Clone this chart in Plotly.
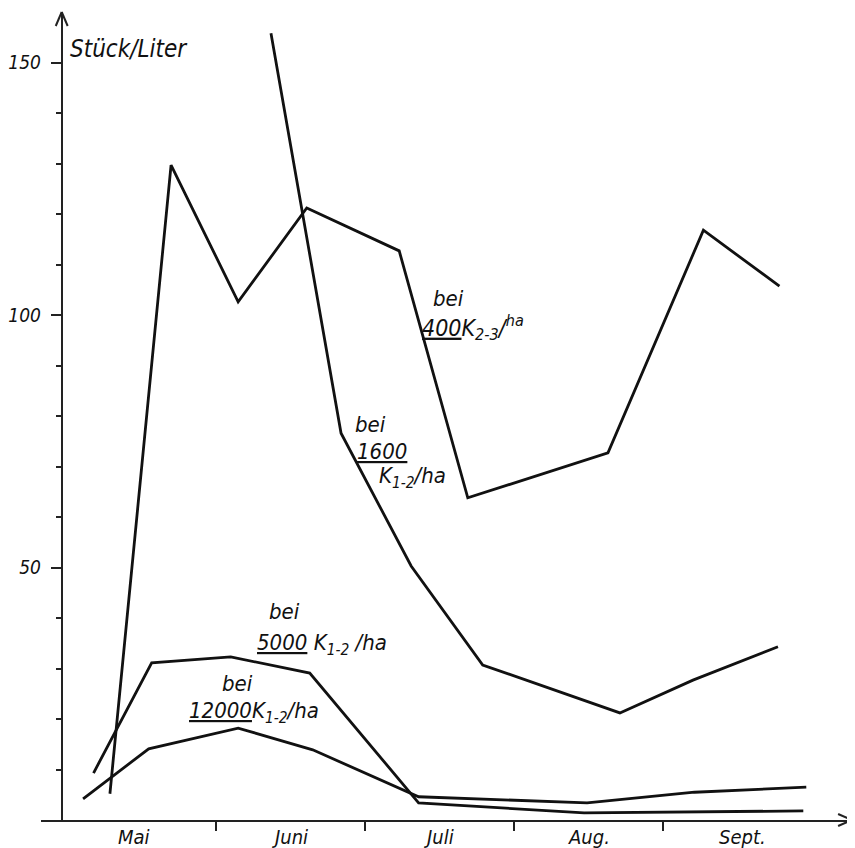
import plotly.graph_objects as go

# The page body adds an 8 px margin, so the figure is drawn 8 px in from the
# corner; the figure is made 8 px smaller and positions are shifted by OFF.
OFF = 8
W, H = 855 - OFF, 848 - OFF

# x = months after 1 May (0 = 1 May, 1 = 1 June, ...), y = Stück/Liter
x_400 = [0.29, 0.70, 1.15, 1.61, 2.23, 2.69, 3.63, 4.27, 4.78]
y_400 = [5.2, 129.7, 102.6, 121.2, 112.7, 63.8, 72.7, 116.8, 105.7]

x_1600 = [1.37, 1.84, 2.31, 2.79, 3.71, 4.20, 4.77]
y_1600 = [155.8, 76.6, 50.3, 30.7, 21.2, 27.7, 34.3]

x_5000 = [0.18, 0.57, 1.10, 1.63, 2.36, 3.47, 4.94]
y_5000 = [9.3, 31.1, 32.3, 29.1, 3.4, 1.4, 1.8]

x_12000 = [0.11, 0.55, 1.15, 1.65, 2.36, 3.49, 4.21, 4.96]
y_12000 = [4.2, 14.1, 18.2, 13.9, 4.6, 3.4, 5.5, 6.5]

month_labels = ["Mai", "Juni", "Juli", "Aug.", "Sept."]
month_pos = [0.45, 1.5, 2.5, 3.5, 4.53]
month_bounds = [1, 2, 3, 4]
y_major = [50, 100, 150]
y_minor = [10, 20, 30, 40, 60, 70, 80, 90, 110, 120, 130, 140]

FONT = "DejaVu Sans Condensed, Liberation Sans Narrow, DejaVu Sans, sans-serif"
INK = "#111111"
AX = "#222222"


def fx(px):
    return (px - OFF) / W


def fy(py):
    return 1 - (py - OFF) / H


fig = go.Figure()
for xs, ys in [(x_400, y_400), (x_1600, y_1600), (x_5000, y_5000), (x_12000, y_12000)]:
    fig.add_trace(go.Scatter(x=xs, y=ys, mode="lines",
                             line=dict(color=INK, width=2.8),
                             showlegend=False, hoverinfo="skip"))


def lab(text, px, py, size=22):
    return dict(text=text, x=fx(px), y=fy(py), xref="paper", yref="paper",
                xanchor="left", yanchor="middle", showarrow=False,
                font=dict(family=FONT, size=size, color=INK, style="italic"))


annotations = [
    lab("Stück/Liter", 63, 49, 24),
    lab("bei", 428, 298),
    lab("<u>400</u>K<sub>2-3</sub>/<sup>ha</sup>", 417, 327, 23),
    lab("bei", 350, 424),
    lab("<u>1600</u>", 352, 451),
    lab("K<sub>1-2</sub>/ha", 374, 477),
    lab("bei", 264, 611),
    lab("<u>5000</u> K<sub>1-2</sub> /ha", 251, 644),
    lab("bei", 216, 683),
    lab("<u>12000</u>K<sub>1-2</sub>/ha", 183, 712),
]
for name, pos in zip(month_labels, month_pos):
    annotations.append(dict(text=name, x=pos, y=fy(837), xref="x", yref="paper",
                            xanchor="center", yanchor="middle", showarrow=False,
                            font=dict(family=FONT, size=20, color=INK, style="italic")))

line_style = dict(color=AX, width=2)
shapes = [
    # arrowheads of the axes
    dict(type="line", xref="paper", yref="paper", x0=fx(57), y0=fy(12), x1=fx(51), y1=fy(26), line=line_style),
    dict(type="line", xref="paper", yref="paper", x0=fx(57), y0=fy(12), x1=fx(63), y1=fy(26), line=line_style),
    dict(type="line", xref="paper", yref="paper", x0=fx(852), y0=fy(820), x1=fx(838), y1=fy(814), line=line_style),
    dict(type="line", xref="paper", yref="paper", x0=fx(852), y0=fy(820), x1=fx(838), y1=fy(826), line=line_style),
]

fig.update_layout(
    width=W, height=H, autosize=False,
    margin=dict(l=0, r=0, t=0, b=0, pad=0),
    paper_bgcolor="white", plot_bgcolor="white",
    showlegend=False,
    annotations=annotations, shapes=shapes,
    xaxis=dict(
        domain=[fx(36), fx(852)], range=[(36 - 62) / 150, (852 - 62) / 150],
        anchor="y", showgrid=False, zeroline=False,
        showline=True, linecolor=AX, linewidth=2,
        tickmode="array", tickvals=month_bounds, showticklabels=False,
        ticks="outside", ticklen=9, tickwidth=2, tickcolor=AX,
    ),
    yaxis=dict(
        domain=[fy(820), fy(12)], range=[0, 160],
        anchor="free", position=fx(57), showgrid=False, zeroline=False,
        showline=True, linecolor=AX, linewidth=2,
        tickmode="array", tickvals=y_major, ticktext=[str(v) for v in y_major],
        ticks="outside", ticklen=10, tickwidth=2, tickcolor=AX,
        tickfont=dict(family=FONT, size=19, color=INK, style="italic"),
        ticklabelstandoff=6,
        minor=dict(tickmode="array", tickvals=y_minor, ticks="outside",
                   ticklen=5, tickwidth=2, tickcolor=AX, showgrid=False),
    ),
)

fig.write_html("out.html")
